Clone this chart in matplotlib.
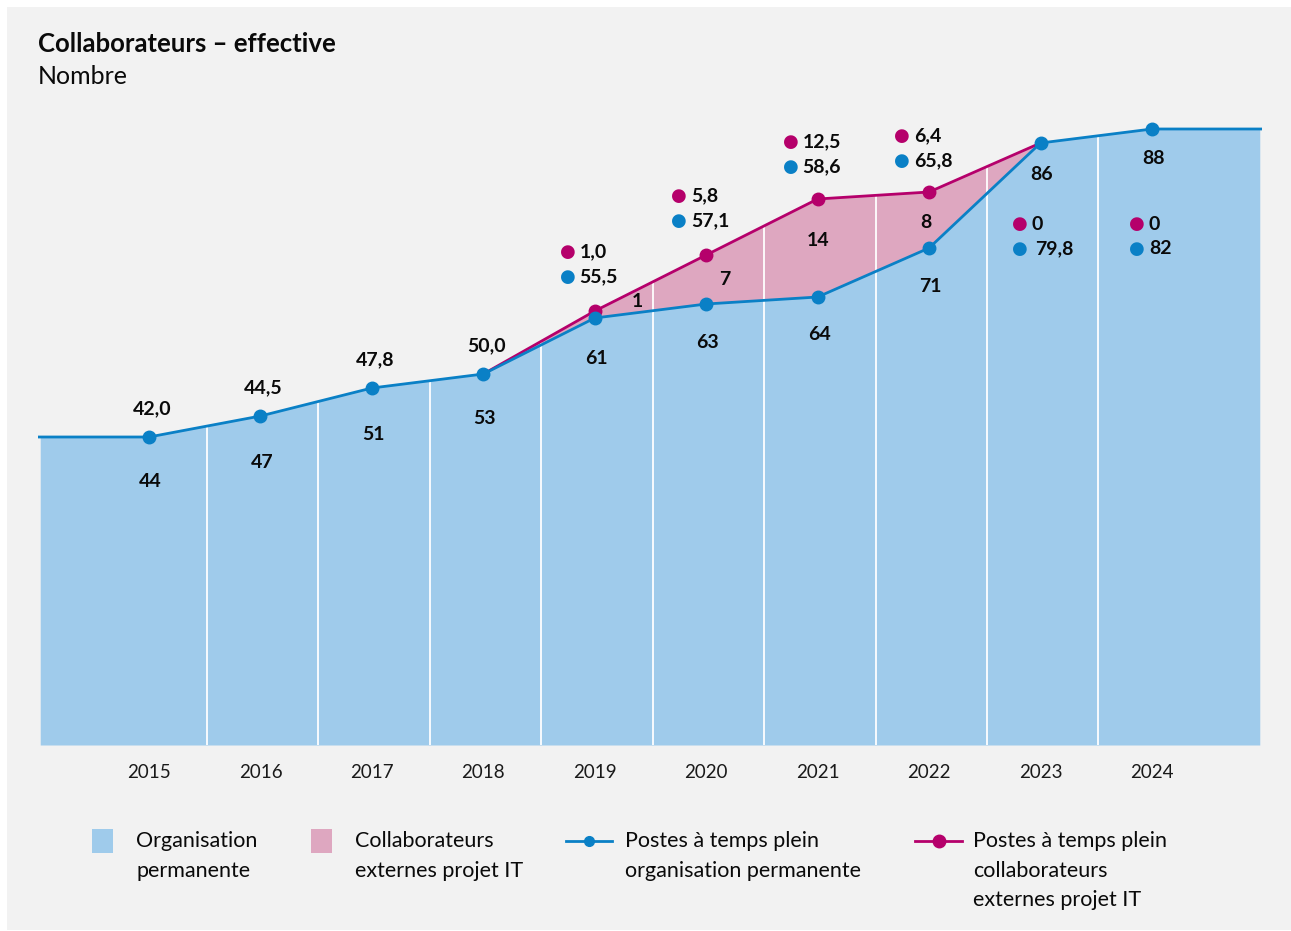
import numpy as np
import matplotlib.pyplot as plt
from matplotlib.patches import Rectangle
from matplotlib.lines import Line2D

plt.rcParams['font.family'] = ['Lato', 'DejaVu Sans']

# Données
annees = [2015, 2016, 2017, 2018, 2019, 2020, 2021, 2022, 2023, 2024]
effectif_perm = [44, 47, 51, 53, 61, 63, 64, 71, 86, 88]
effectif_ext = [0, 0, 0, 0, 1, 7, 14, 8, 0, 0]
etp_perm = ['42,0', '44,5', '47,8', '50,0', '55,5', '57,1', '58,6', '65,8', '79,8', '82']
etp_ext = [None, None, None, None, '1,0', '5,8', '12,5', '6,4', '0', '0']

c_bleu_area = '#9fcbeb'
c_rose_area = '#dea7c0'
c_bleu = '#0a80c6'
c_rose = '#b5006b'
c_fond = '#f2f2f2'
c_txt = '#0a0a0a'

W, H = 1291, 931
fig = plt.figure(figsize=(W / 100, H / 100), dpi=100)
fig.patch.set_facecolor('white')
fig.add_artist(Rectangle((7 / W, 1 / H), 1 - 7 / W, 1 - 8 / H,
                         transform=fig.transFigure, facecolor=c_fond,
                         edgecolor='none', zorder=-10))

# axe principal : positions en pixels
x0_px, x1_px, y0_px, y1_px = 38, 1262, 745, 80
ax = fig.add_axes([x0_px / W, 1 - y0_px / H, (x1_px - x0_px) / W, (y0_px - y1_px) / H])
ax.set_facecolor('none')

x = np.array(annees, dtype=float)
perm = np.array(effectif_perm, dtype=float)
ext = np.array(effectif_ext, dtype=float)
total = perm + ext

px_per_year = 111.4
xmin = x[0] - (149 - x0_px) / px_per_year
xmax = x[-1] + (x1_px - 1152) / px_per_year
ax.set_xlim(xmin, xmax)
ax.set_ylim(0, (y0_px - y1_px) / 7.0)

# zones prolongées aux bords
x_ext = np.concatenate([[xmin + 0.02], x, [xmax - 0.02]])
perm_ext = np.concatenate([[perm[0]], perm, [perm[-1]]])
tot_ext = np.concatenate([[total[0]], total, [total[-1]]])
ax.fill_between(x_ext, 0, perm_ext, color=c_bleu_area, linewidth=0, zorder=1)
ax.fill_between(x_ext, perm_ext, tot_ext, color=c_rose_area, linewidth=0, zorder=1)

# séparateurs blancs
mids = (x[:-1] + x[1:]) / 2 + 0.02
ax.vlines(mids, 0, np.interp(mids, x, total), color='white', linewidth=1.3, zorder=2)

# ligne externes
has_ext = ext > 0
idx = np.where(has_ext)[0]
seg = slice(idx[0] - 1, idx[-1] + 2)
ax.plot(x[seg], total[seg], color=c_rose, linewidth=2, zorder=3, solid_capstyle='round')
ax.plot(x[has_ext], total[has_ext], 'o', color=c_rose, markersize=9, zorder=3)

# ligne permanente
x_line = np.concatenate([[xmin], x, [xmax]])
ax.plot(x_line, perm_ext, color=c_bleu, linewidth=2, zorder=4)
ax.plot(x, perm, 'o', color=c_bleu, markersize=9, zorder=4)

lab = dict(fontsize=14, fontweight='bold', color=c_txt, ha='center', va='center')

# effectifs permanents (sous la ligne)
dy_perm = [-45, -46, -47, -44, -40, -39, -37, -38, -31, -29]
for xi, yi, v, d in zip(x, perm, effectif_perm, dy_perm):
    ax.annotate(str(v), (xi, yi), xytext=(1, d * 0.72), textcoords='offset points', **lab)

# effectifs externes (dans la zone rose)
dx_ext = {4: 0.38, 5: 0.17, 6: 0.0, 7: -0.03}
dy_ext = {4: 0, 5: 0, 6: 7, 7: -2}
for i in idx:
    xl = x[i] + dx_ext.get(i, 0)
    ym = (np.interp(xl, x, perm) + np.interp(xl, x, total)) / 2 if i == idx[0] \
        else (perm[i] + total[i]) / 2
    ax.annotate(str(effectif_ext[i]), (xl, ym), xytext=(0, dy_ext.get(i, 0) * 0.72),
                textcoords='offset points', **lab)

# postes à temps plein
off_y_ext = {4: 59, 5: 59, 6: 57, 7: 56}
for i, (xi, yi) in enumerate(zip(x, perm)):
    if etp_ext[i] is None:
        ax.annotate(etp_perm[i], (xi, yi), xytext=(2, 20), textcoords='offset points', **lab)
    else:
        if ext[i] > 0:
            xa, ya = xi, total[i]
            off_x, off_y = -27, off_y_ext[i]
        else:
            xa, ya = xi, (y0_px - 224) / 7.0
            off_x, off_y = (-21 if i == 8 else -15), 0
        for k, (col, txt) in enumerate([(c_rose, etp_ext[i]), (c_bleu, etp_perm[i])]):
            oy = (off_y - 24.5 * k) * 0.72
            ox = off_x * 0.72
            ax.annotate('\u25CF', (xa, ya), xytext=(ox, oy), textcoords='offset points',
                        fontsize=13, color=col, ha='center', va='center',
                        family='DejaVu Sans')
            gap = 8.5 if not (i == 8 and k == 1) else 11.5
            ax.annotate(txt, (xa, ya), xytext=(ox + gap, oy), textcoords='offset points',
                        fontsize=14, fontweight='bold', color=c_txt, ha='left', va='center')

for s in ax.spines.values():
    s.set_visible(False)
ax.set_yticks([])
ax.set_xticks(x)
ax.set_xticklabels([str(a) for a in annees], fontsize=13.5, color='#1a1a1a')
ax.tick_params(axis='x', length=0, pad=14)

# titre
fig.text(38 / W, 1 - 44 / H, 'Collaborateurs \u2013 effective', fontsize=18.5,
         fontweight='bold', color=c_txt, va='center', ha='left')
fig.text(38 / W, 1 - 77 / H, 'Nombre', fontsize=18, color=c_txt, va='center', ha='left')

# légende
leg_fs = 15.5
def ftxt(px, py, s):
    fig.text(px / W, 1 - py / H, s, fontsize=leg_fs, color=c_txt, va='top', ha='left',
             linespacing=1.6)

fig.add_artist(Rectangle((92 / W, 1 - 853 / H), 21 / W, 24 / H, transform=fig.transFigure,
                         facecolor=c_bleu_area, edgecolor='none'))
ftxt(136, 831, 'Organisation\npermanente')
fig.add_artist(Rectangle((311 / W, 1 - 853 / H), 21 / W, 24 / H, transform=fig.transFigure,
                         facecolor=c_rose_area, edgecolor='none'))
ftxt(355, 831, 'Collaborateurs\nexternes projet IT')
fig.add_artist(Line2D([566 / W, 612 / W], [1 - 841 / H] * 2, transform=fig.transFigure,
                      color=c_bleu, linewidth=2))
fig.add_artist(Line2D([589 / W], [1 - 841 / H], transform=fig.transFigure,
                      color=c_bleu, marker='o', markersize=7, linestyle='none'))
ftxt(625, 831, 'Postes à temps plein\norganisation permanente')
fig.add_artist(Line2D([915 / W, 962 / W], [1 - 841 / H] * 2, transform=fig.transFigure,
                      color=c_rose, linewidth=2))
fig.add_artist(Line2D([939 / W], [1 - 841 / H], transform=fig.transFigure,
                      color=c_rose, marker='o', markersize=9, linestyle='none'))
ftxt(973, 831, 'Postes à temps plein\ncollaborateurs\nexternes projet IT')

fig.savefig('out.png', dpi=100, facecolor=fig.get_facecolor())
